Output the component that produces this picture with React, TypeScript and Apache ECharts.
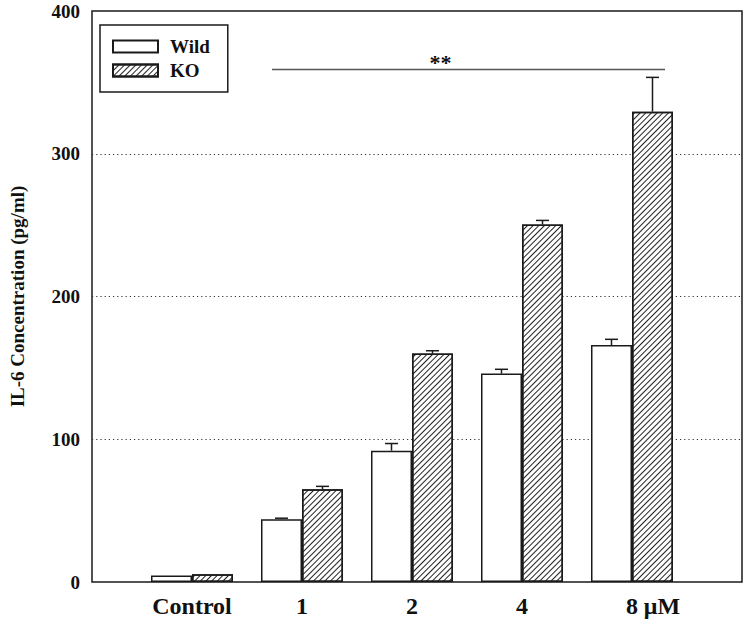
import React, { useEffect, useRef } from 'react';
import * as echarts from 'echarts';

const categories = ['Control', '1', '2', '4', '8 μM'];
const seriesNames = ['Wild', 'KO'];
const wildValues = [4.5, 44, 92, 146, 166];
const wildErrors = [0, 0.7, 5, 3, 4];
const koValues = [5.5, 65, 160, 250.5, 329.5];
const koErrors = [0, 2, 2, 2.8, 24];
const yMin = 0;
const yMax = 400;
const yInterval = 100;
const sigLevel = 359;
const sigLabel = '**';
const yAxisTitle = 'IL-6 Concentration (pg/ml)';

const FONT = '"Times New Roman", "Liberation Serif", serif';
const BAR_W = 41;
const INK = '#1a1a1a';

export default function App() {
  const ref = useRef<HTMLDivElement>(null);

  useEffect(() => {
    if (!ref.current) return;
    const chart = echarts.init(ref.current, null, { renderer: 'svg' });

    const errData = (vals: number[], errs: number[], side: number) =>
      vals.map((v, i) => [i, v, errs[i], side]);

    const option: any = {
      animation: false,
      backgroundColor: '#fff',
      grid: [
        { left: 82, right: 6, top: 11, bottom: 41, show: true, borderColor: INK, borderWidth: 1.5, backgroundColor: 'transparent' },
        { left: 137, right: 61, top: 11, bottom: 41 },
      ],
      legend: {
        data: seriesNames,
        orient: 'vertical',
        left: 100,
        top: 25,
        icon: 'rect',
        itemWidth: 45,
        itemHeight: 12,
        itemGap: 5,
        padding: [12, 18, 12, 12],
        borderColor: INK,
        borderWidth: 1.5,
        backgroundColor: '#fff',
        textStyle: { fontFamily: FONT, fontWeight: 'bold', fontSize: 19, color: '#111', padding: [0, 0, 0, 7] },
      },
      xAxis: [
        { type: 'value', gridIndex: 0, min: 0, max: 1, show: false },
        {
          type: 'category',
          gridIndex: 1,
          data: categories,
          axisLine: { show: false },
          axisTick: { show: false },
          axisLabel: {
            interval: 0,
            margin: 12,
            fontFamily: FONT,
            fontWeight: 'bold',
            fontSize: 24,
            color: '#111',
            formatter: (v: string) => {
              const parts = v.split(' ');
              if (parts.length > 1) return '{p| }{v|' + parts[0] + '}{v| ' + parts.slice(1).join(' ') + '}';
              return '{v|' + v + '}';
            },
            rich: {
              p: { width: 42 },
              v: { fontFamily: FONT, fontWeight: 'bold', fontSize: 24, color: '#111' },
            },
          },
        },
      ],
      yAxis: [
        {
          type: 'value',
          gridIndex: 0,
          min: yMin,
          max: yMax,
          interval: yInterval,
          name: yAxisTitle,
          nameLocation: 'middle',
          nameRotate: 90,
          nameGap: 65,
          nameTextStyle: { fontFamily: FONT, fontWeight: 'bold', fontSize: 19, color: '#111' },
          axisLine: { show: false },
          axisTick: { show: false },
          axisLabel: { margin: 12, fontFamily: FONT, fontWeight: 'bold', fontSize: 19, color: '#111' },
          splitLine: { show: true, showMinLine: false, showMaxLine: false, lineStyle: { type: [1.2, 3], color: '#333', width: 1 } },
        },
        { type: 'value', gridIndex: 1, min: yMin, max: yMax, interval: yInterval, show: false, splitLine: { show: false } },
      ],
      series: [
        {
          name: seriesNames[0],
          type: 'bar',
          xAxisIndex: 1,
          yAxisIndex: 1,
          barWidth: BAR_W,
          barGap: '0%',
          data: wildValues,
          itemStyle: { color: '#fff', borderColor: INK, borderWidth: 1.5 },
        },
        {
          name: seriesNames[1],
          type: 'bar',
          xAxisIndex: 1,
          yAxisIndex: 1,
          barWidth: BAR_W,
          barGap: '0%',
          data: koValues,
          itemStyle: {
            color: '#fff',
            borderColor: INK,
            borderWidth: 1.5,
            decal: {
              symbol: 'rect',
              symbolSize: 1,
              color: '#222',
              dashArrayX: [1, 0],
              dashArrayY: [1, 2.2],
              rotation: -Math.PI / 4,
            },
          },
        },
        {
          type: 'custom',
          xAxisIndex: 1,
          yAxisIndex: 1,
          silent: true,
          z: 5,
          data: [...errData(wildValues, wildErrors, -1), ...errData(koValues, koErrors, 1)],
          renderItem: (params: any, api: any) => {
            const idx = api.value(0);
            const v = api.value(1);
            const e = api.value(2);
            const side = api.value(3);
            if (!e) return { type: 'group', children: [] };
            const base = api.coord([idx, v]);
            const top = api.coord([idx, v + e]);
            const x = base[0] + side * BAR_W / 2;
            const st = { stroke: INK, lineWidth: 1.5 };
            return {
              type: 'group',
              children: [
                { type: 'line', shape: { x1: x, y1: base[1], x2: x, y2: top[1] }, style: st },
                { type: 'line', shape: { x1: x - 6.5, y1: top[1], x2: x + 6.5, y2: top[1] }, style: st },
              ],
            };
          },
        },
      ],
    };

    chart.setOption(option);

    const p1 = chart.convertToPixel({ xAxisIndex: 1, yAxisIndex: 1 }, [1, sigLevel]) as number[];
    const p2 = chart.convertToPixel({ xAxisIndex: 1, yAxisIndex: 1 }, [categories.length - 1, sigLevel]) as number[];
    const x1 = p1[0] - 30;
    const x2 = p2[0] + 33;
    chart.setOption({
      graphic: [
        { type: 'line', shape: { x1, y1: p1[1], x2, y2: p1[1] }, style: { stroke: '#555', lineWidth: 1.5 }, z: 10 },
        {
          type: 'text',
          x: (x1 + x2) / 2 - 28,
          y: p1[1] + 4,
          style: { text: sigLabel, fontFamily: FONT, fontWeight: 'bold', fontSize: 22, fill: '#111', align: 'center', verticalAlign: 'bottom' },
          z: 10,
        },
      ],
    });

    return () => chart.dispose();
  }, []);

  return <div ref={ref} style={{ position: 'absolute', left: 0, top: 0, width: 748, height: 623 }} />;
}
